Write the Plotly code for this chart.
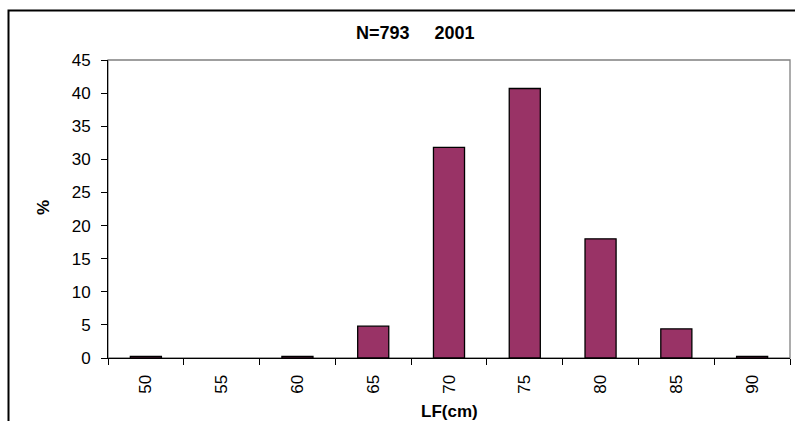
import plotly.graph_objects as go

categories = ["50", "55", "60", "65", "70", "75", "80", "85", "90"]
percent = [0.25, 0, 0.25, 4.8, 31.8, 40.7, 18.0, 4.4, 0.25]
y_ticks = [0, 5, 10, 15, 20, 25, 30, 35, 40, 45]
title_text = "N=793     2001"
x_title = "LF(cm)"
y_title = "%"

W, H = 795, 421
L, R, T, B = 108, 5, 60, 63
pw = W - L - R
ph = H - T - B

def px_x(x):
    return (x - L) / pw

def px_y(y):
    return (H - B - y) / ph

fig = go.Figure()
fig.add_trace(go.Bar(
    x=categories, y=percent,
    marker=dict(color="#993366",
                line=dict(color="black", width=[1.3 if v > 0 else 0 for v in percent])),
    width=0.41,
))

font = "Liberation Sans, Arial, sans-serif"
fig.update_layout(
    width=W, height=H,
    margin=dict(l=L, r=R, t=T, b=B),
    paper_bgcolor="white", plot_bgcolor="white",
    showlegend=False,
    font=dict(family=font, size=17, color="black"),
    xaxis=dict(
        type="category", tickson="boundaries", ticks="outside", ticklen=6,
        tickcolor="black", tickwidth=1, showline=True, linecolor="black",
        linewidth=1, tickangle=-90, showgrid=False, zeroline=False,
        tickfont=dict(size=17), ticklabelstandoff=9,
    ),
    yaxis=dict(
        range=[0, 45], tickvals=y_ticks, ticks="outside", ticklen=6,
        tickcolor="black", showline=True, linecolor="black", linewidth=1,
        showgrid=False, zeroline=False, tickfont=dict(size=17),
        ticklabelstandoff=7,
    ),
    shapes=[
        dict(type="rect", xref="paper", yref="paper", x0=0, x1=1, y0=0, y1=1,
             line=dict(color="#808080", width=1.3), layer="below"),
        dict(type="rect", xref="paper", yref="paper",
             x0=px_x(8.5), x1=px_x(830), y0=px_y(440), y1=px_y(10.5),
             line=dict(color="black", width=2), layer="below"),
    ],
    annotations=[
        dict(text="<b>" + title_text.replace(" ", "&nbsp;") + "</b>", xref="paper", yref="paper",
             x=px_x(415), y=px_y(33), xanchor="center", yanchor="middle", showarrow=False,
             font=dict(size=18, family=font)),
        dict(text="<b>" + x_title + "</b>", xref="paper", yref="paper",
             x=px_x(449), y=px_y(411), xanchor="center", yanchor="middle", showarrow=False,
             font=dict(size=17, family=font)),
        dict(text="<b>" + y_title + "</b>", xref="paper", yref="paper",
             x=px_x(44), y=px_y(208), xanchor="center", yanchor="middle", showarrow=False,
             textangle=-90, font=dict(size=17, family=font)),
    ],
)

fig.write_html("out.html", post_script="document.body.style.margin='0';",
               config={"displayModeBar": False})
